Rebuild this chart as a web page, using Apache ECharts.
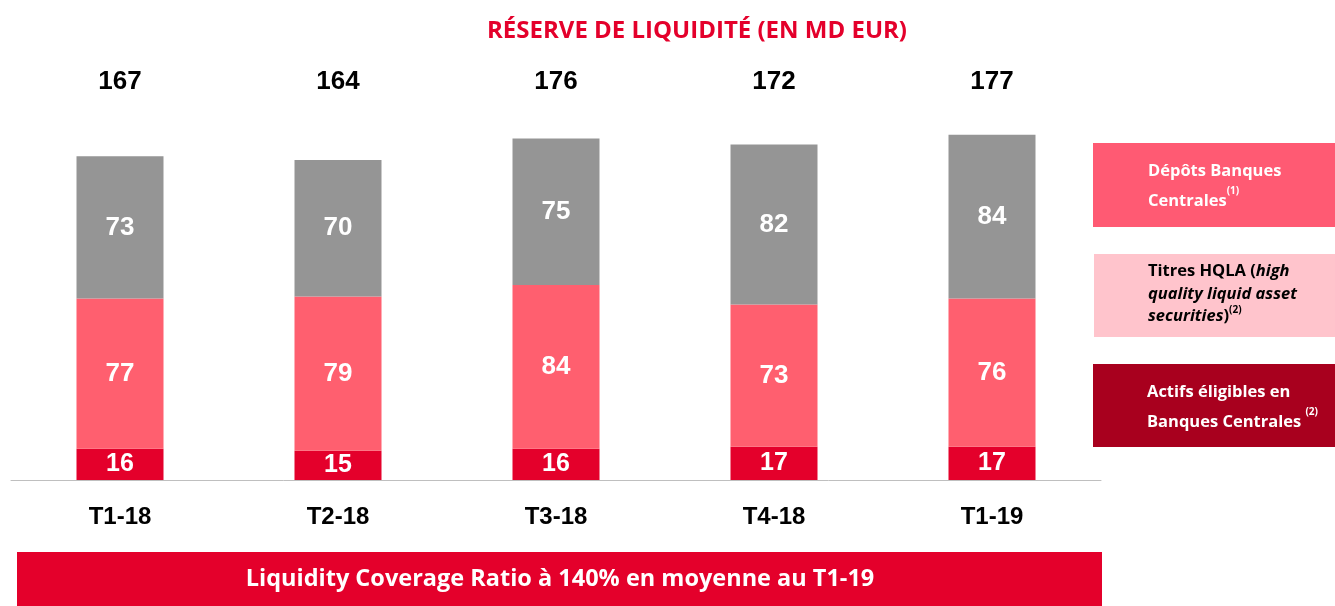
<!DOCTYPE html>
<html><head><meta charset="utf-8">
<script src="https://cdn.jsdelivr.net/npm/echarts@6/dist/echarts.min.js"></script>
<style>html,body{margin:0;padding:0;background:#fff}#c{width:1335px;height:606px}</style>
</head><body><div id="c"></div>
<script>
const categories = ['T1-18','T2-18','T3-18','T4-18','T1-19'];
const actifsEligibles = [16,15,16,17,17];
const titresHQLA = [77,79,84,73,76];
const depotsBC = [73,70,75,82,84];
const totals = [167,164,176,172,177];
const title = 'RÉSERVE DE LIQUIDITÉ (EN MD EUR)';
const banner = 'Liquidity Coverage Ratio à 140% en moyenne au T1-19';

const chart = echarts.init(document.getElementById('c'), null, {renderer:'canvas'});
const totalRow = 204;
const segLabel = (size) => ({show:true, position:'inside', color:'#fff', fontFamily:'Liberation Sans, Arial', fontWeight:'bold', fontSize:size, textBorderWidth:0});
const lg = (fill, extra) => Object.assign({fill:fill, fontFamily:'Open Sans', fontWeight:'bold', fontSize:16.5}, extra||{});
chart.setOption({
  animation:false,
  title:{text:title, left:692, top:14, textAlign:'center',
    textStyle:{color:'#E4002B', fontFamily:'Open Sans', fontWeight:'bold', fontSize:24}},
  grid:{left:11, top:82, width:1090, bottom:126},
  xAxis:{type:'category', data:categories,
    axisLine:{lineStyle:{color:'#BFBFBF', width:1}}, axisTick:{show:false},
    axisLabel:{color:'#000', fontFamily:'Liberation Sans, Arial', fontWeight:'bold', fontSize:24, margin:25}},
  yAxis:{type:'value', min:0, max:totalRow, show:false, splitLine:{show:false}},
  series:[
    {type:'bar', stack:'s', data:actifsEligibles, barWidth:87, itemStyle:{color:'#E4002B'}, label:segLabel(25)},
    {type:'bar', stack:'s', data:titresHQLA, itemStyle:{color:'#FF5F6F'}, label:segLabel(26)},
    {type:'bar', stack:'s', data:depotsBC, itemStyle:{color:'#959595'}, label:segLabel(26)},
    {type:'scatter', data:totals.map((t,i)=>[i,totalRow]), symbolSize:0, silent:true,
      itemStyle:{color:'#000', opacity:1},
      label:{show:true, position:'inside', formatter:(p)=>String(totals[p.dataIndex]),
        color:'#000', opacity:1, textBorderWidth:0, fontFamily:'Liberation Sans, Arial', fontWeight:'bold', fontSize:26}}
  ],
  graphic:[
    {type:'rect', shape:{x:1093,y:143,width:242,height:84}, style:{fill:'#FF5A73'}},
    {type:'text', left:1148, top:163, style:{rich:{b:lg('#fff',{lineHeight:30}),s:lg('#fff',{fontSize:10,verticalAlign:'top',lineHeight:30})}, text:'{b|Dépôts Banques}\n{b|Centrales}{s|(1)}'}},
    {type:'rect', shape:{x:1094,y:254,width:241,height:83}, style:{fill:'#FFC4CC'}},
    {type:'text', left:1148, top:263, style:{rich:{b:lg('#000',{lineHeight:22.5}),i:lg('#000',{fontStyle:'italic',lineHeight:22.5}),s:lg('#000',{fontSize:10,verticalAlign:'top',lineHeight:22.5})}, text:'{b|Titres HQLA (}{i|high}\n{i|quality liquid asset}\n{i|securities}{b|)}{s|(2)}'}},
    {type:'rect', shape:{x:1093,y:364,width:242,height:83}, style:{fill:'#A8001E'}},
    {type:'text', left:1147, top:384, style:{rich:{b:lg('#fff',{lineHeight:30}),s:lg('#fff',{fontSize:10,verticalAlign:'top',lineHeight:30})}, text:'{b|Actifs éligibles en}\n{b|Banques Centrales }{s|(2)}'}},
    {type:'rect', shape:{x:17,y:552,width:1085,height:54}, style:{fill:'#E4002B'}},
    {type:'text', x:560, y:579, style:{text:banner, fill:'#fff', fontFamily:'Open Sans', fontWeight:'bold', fontSize:23.5, align:'center', verticalAlign:'middle'}}
  ]
});
</script></body></html>
